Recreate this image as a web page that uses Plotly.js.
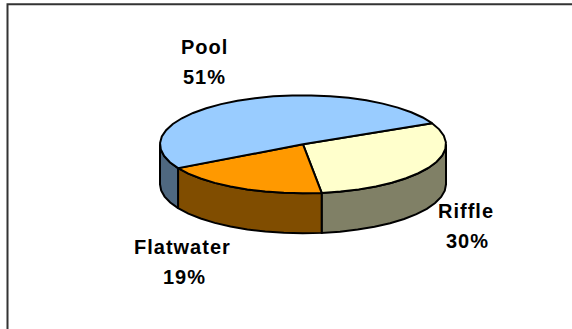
<!DOCTYPE html>
<html>
<head>
<meta charset="utf-8">
<script src="https://cdn.plot.ly/plotly-3.0.1.min.js"></script>
<style>
  html, body { margin: 0; padding: 0; background: #fff; }
  #chart { width: 572px; height: 329px; }
  .annotation-text { letter-spacing: 1px; }
</style>
</head>
<body>
<div id="chart"></div>
<script>
// Habitat shares, listed clockwise from the first slice edge
const categories = ['Riffle', 'Flatwater', 'Pool'];
const shares = [30, 19, 51];
const topColors = ['#FFFFCC', '#FF9900', '#99CCFF'];
const sideColors = ['#808066', '#804D00', '#4F6880'];

// Disc projection, in page pixels
const W = 572, H = 329;
const centerX = 303, centerY = 144.3;
const radiusX = 143, radiusY = 49, depth = 40;
const firstEdgeDeg = 25.5;
const facetDeg = 7.5;

// Label placement: centre of each text line, in page pixels
const nameX = [466, 182, 204];
const nameY = [211, 247, 47];
const pctX = [467, 184, 204];
const pctY = [241, 277, 77];

const px = (u) => u * radiusX;          // unit circle to x axis value
const py = (v) => v * radiusY;          // unit circle to y axis value

// Points along the rim between two angles, stepping in flat facets
function rim(fromDeg, toDeg, drop) {
  const pts = [];
  const n = Math.max(1, Math.round(Math.abs(toDeg - fromDeg) / facetDeg));
  for (let i = 0; i <= n; i++) {
    const a = (fromDeg + (toDeg - fromDeg) * i / n) * Math.PI / 180;
    pts.push([px(Math.cos(a)), py(Math.sin(a)) - drop]);
  }
  return pts;
}

const total = shares.reduce((s, v) => s + v, 0);
let cursor = firstEdgeDeg;
const slices = shares.map((v, i) => {
  const start = cursor;
  const end = cursor - v / total * 360;
  cursor = end;
  return { start, end, i };
});

const traces = [];
const addPoly = (pts, color) => traces.push({
  x: pts.map(p => p[0]).concat(pts[0][0]),
  y: pts.map(p => p[1]).concat(pts[0][1]),
  mode: 'lines',
  type: 'scatter',
  fill: 'toself',
  fillcolor: color,
  line: { color: '#000', width: 2, shape: 'linear' },
  hoverinfo: 'skip',
  showlegend: false
});

// Outer wall: only the part of each slice on the near half of the disc
slices.forEach(s => {
  const a = Math.min(s.start, 0);
  const b = Math.max(s.end, -180);
  if (a > b) {
    addPoly(rim(a, b, 0).concat(rim(b, a, depth)), sideColors[s.i]);
  }
});

// Top face, drawn over the walls
slices.forEach(s => {
  addPoly([[0, 0]].concat(rim(s.start, s.end, 0)), topColors[s.i]);
});

const labelFont = { family: 'Liberation Sans, Arial, sans-serif', size: 20, color: '#000' };
const annotations = [];
categories.forEach((c, i) => {
  const pct = Math.round(shares[i] / total * 100) + '%';
  annotations.push({ xref: 'paper', yref: 'paper', x: nameX[i] / W, y: 1 - nameY[i] / H,
    text: '<b>' + c + '</b>', showarrow: false, font: labelFont, xanchor: 'center', yanchor: 'middle' });
  annotations.push({ xref: 'paper', yref: 'paper', x: pctX[i] / W, y: 1 - pctY[i] / H,
    text: '<b>' + pct + '</b>', showarrow: false, font: labelFont, xanchor: 'center', yanchor: 'middle' });
});

const layout = {
  width: W,
  height: H,
  margin: { l: 0, r: 0, t: 0, b: 0 },
  paper_bgcolor: '#fff',
  plot_bgcolor: '#fff',
  xaxis: { visible: false, fixedrange: true, range: [-centerX, W - centerX] },
  yaxis: { visible: false, fixedrange: true, range: [centerY - H, centerY] },
  showlegend: false,
  annotations,
  // Chart area border: left and top edges only
  shapes: [{
    type: 'path', xref: 'paper', yref: 'paper',
    path: `M ${7.5 / W} 0 L ${7.5 / W} ${1 - 4.3 / H} L 1 ${1 - 4.3 / H}`,
    line: { color: '#333', width: 2 }
  }]
};

Plotly.newPlot('chart', traces, layout, { displayModeBar: false, staticPlot: true });
</script>
</body>
</html>
